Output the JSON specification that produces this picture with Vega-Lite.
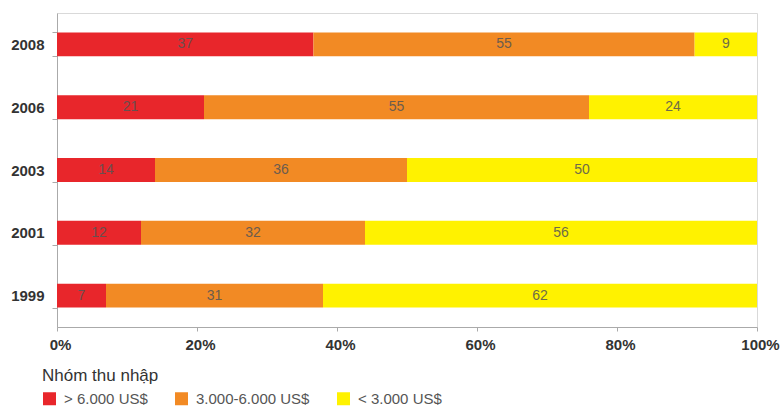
{
  "$schema": "https://vega.github.io/schema/vega-lite/v6.json",
  "width": 700,
  "height": 314,
  "autosize": {"type": "none"},
  "padding": {"left": 57, "top": 13, "right": 26, "bottom": 83},
  "background": "white",
  "config": {
    "view": {"stroke": "#d9d9d9", "strokeWidth": 1},
    "font": "Liberation Sans"
  },
  "data": {
    "values": [
      {"year": "2008", "group": "> 6.000 US$", "k": 1, "value": 37},
      {"year": "2008", "group": "3.000-6.000 US$", "k": 2, "value": 55},
      {"year": "2008", "group": "< 3.000 US$", "k": 3, "value": 9},
      {"year": "2006", "group": "> 6.000 US$", "k": 1, "value": 21},
      {"year": "2006", "group": "3.000-6.000 US$", "k": 2, "value": 55},
      {"year": "2006", "group": "< 3.000 US$", "k": 3, "value": 24},
      {"year": "2003", "group": "> 6.000 US$", "k": 1, "value": 14},
      {"year": "2003", "group": "3.000-6.000 US$", "k": 2, "value": 36},
      {"year": "2003", "group": "< 3.000 US$", "k": 3, "value": 50},
      {"year": "2001", "group": "> 6.000 US$", "k": 1, "value": 12},
      {"year": "2001", "group": "3.000-6.000 US$", "k": 2, "value": 32},
      {"year": "2001", "group": "< 3.000 US$", "k": 3, "value": 56},
      {"year": "1999", "group": "> 6.000 US$", "k": 1, "value": 7},
      {"year": "1999", "group": "3.000-6.000 US$", "k": 2, "value": 31},
      {"year": "1999", "group": "< 3.000 US$", "k": 3, "value": 62}
    ]
  },
  "encoding": {
    "y": {
      "field": "year",
      "type": "nominal",
      "sort": "descending",
      "scale": {"paddingInner": 0.62, "paddingOuter": 0.31},
      "axis": {
        "title": null,
        "labelFont": "Liberation Sans",
        "labelFontWeight": "bold",
        "labelFontSize": 15,
        "labelColor": "#333333",
        "labelPadding": 8,
        "tickBand": "extent",
        "tickSize": 5,
        "tickColor": "#aaaaaa",
        "domainColor": "#aaaaaa"
      }
    },
    "x": {
      "field": "value",
      "type": "quantitative",
      "stack": "normalize",
      "scale": {"domain": [0, 1]},
      "axis": {
        "title": null,
        "format": "%",
        "values": [0, 0.2, 0.4, 0.6, 0.8, 1],
        "grid": false,
        "labelFont": "Liberation Sans",
        "labelFontWeight": "bold",
        "labelFontSize": 15,
        "labelColor": "#333333",
        "labelPadding": 6,
        "labelFlush": false,
        "labelOverlap": false,
        "labelOffset": 3,
        "tickSize": 4,
        "tickColor": "#aaaaaa",
        "domainColor": "#aaaaaa"
      }
    },
    "order": {"field": "k", "type": "quantitative"}
  },
  "layer": [
    {
      "mark": {"type": "bar"},
      "encoding": {
        "color": {
          "field": "group",
          "type": "nominal",
          "sort": ["> 6.000 US$", "3.000-6.000 US$", "< 3.000 US$"],
          "scale": {
            "domain": ["> 6.000 US$", "3.000-6.000 US$", "< 3.000 US$"],
            "range": ["#e8262b", "#f28a24", "#fff200"]
          },
          "legend": {
            "title": "Nhóm thu nhập",
            "orient": "none",
            "legendX": -15,
            "legendY": 355,
            "direction": "horizontal",
            "columns": 3,
            "columnPadding": 26,
            "symbolType": "square",
            "symbolSize": 169,
            "symbolStrokeWidth": 0,
            "symbolOpacity": 1,
            "labelOffset": 7,
            "labelFont": "Liberation Sans",
            "labelFontSize": 15,
            "labelColor": "#555555",
            "titleFont": "Liberation Sans",
            "titleFontSize": 17,
            "titleFontWeight": "normal",
            "titleColor": "#333333",
            "titlePadding": 6
          }
        }
      }
    },
    {
      "mark": {"type": "text", "font": "Liberation Sans", "fontSize": 14, "color": "#555555", "opacity": 0.85},
      "encoding": {
        "x": {"field": "value", "type": "quantitative", "stack": "normalize", "bandPosition": 0.5},
        "text": {"field": "value", "type": "quantitative"}
      }
    }
  ]
}
